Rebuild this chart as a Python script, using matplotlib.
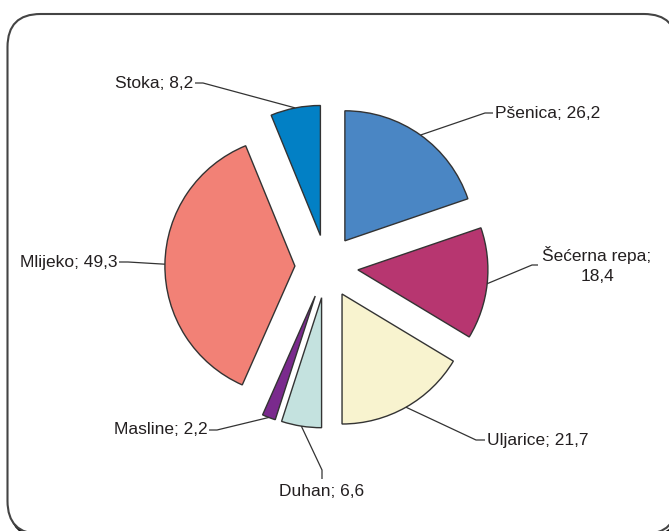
import numpy as np
import matplotlib
matplotlib.use("Agg")
import matplotlib.pyplot as plt
from matplotlib.patches import FancyBboxPatch

categories = ["Pšenica", "Šećerna repa", "Uljarice", "Duhan", "Masline", "Mlijeko", "Stoka"]
values = [26.2, 18.4, 21.7, 6.6, 2.2, 49.3, 8.2]
colors = ["#4A86C4", "#B73670", "#F8F3CF", "#C4E2DF", "#7A2A8D", "#F28176", "#0280C5"]

W, H = 669, 531
plt.rcParams['font.family'] = ['Liberation Sans', 'DejaVu Sans']
fig = plt.figure(figsize=(W / 100, H / 100), dpi=100)
ax = fig.add_axes([0, 0, 1, 1])

# frame with shadow (pixel coords, y up)
shadow = FancyBboxPatch((7.5 + 3, -3 - 3), 669.5, 520, boxstyle="round,pad=0,rounding_size=33",
                        fc="none", ec="#111111", lw=2.5, zorder=0)
ax.add_patch(shadow)
frame = FancyBboxPatch((7.5, -3), 669.5, 520, boxstyle="round,pad=0,rounding_size=33",
                       fc="white", ec="#444444", lw=1.5, zorder=1)
ax.add_patch(frame)

cx, cy, R = 326.5, H - 266.5, 130
explode_frac = 0.243
wedges, _ = ax.pie(values, colors=colors, startangle=90, counterclock=False,
                   explode=[explode_frac * R] * len(values), center=(cx, cy), radius=R,
                   wedgeprops=dict(edgecolor="#333333", linewidth=1.0), frame=True)
for w in wedges:
    w.set_zorder(3)
ax.set_xlim(0, W)
ax.set_ylim(0, H)
ax.set_aspect('auto')
ax.axis('off')

def fmt(name, v):
    return f"{name}; {v:.1f}".replace('.', ',')

# label layout: (text x, text y, ha, va, elbow points in image coords)
layout = {
    "Pšenica": dict(t=(495, 113), ha="left", va="center", pts=[(485, 113), (493, 113)], txt=None),
    "Šećerna repa": dict(t=(597, 265), ha="center", va="center", pts=[(532, 265), (538, 265)],
                         txt="Šećerna repa;\n18,4"),
    "Uljarice": dict(t=(487, 440), ha="left", va="center", pts=[(476, 440), (485, 440)], txt=None),
    "Duhan": dict(t=(322, 484), ha="center", va="top", pts=[(322, 470), (322, 479)], txt=None),
    "Masline": dict(t=(208, 430), ha="right", va="center", pts=[(217, 430), (209, 430)], txt=None),
    "Mlijeko": dict(t=(118, 262), ha="right", va="center", pts=[(128, 262), (119, 262)], txt=None),
    "Stoka": dict(t=(193, 83), ha="right", va="center", pts=[(203, 83), (195, 83)], txt=None),
}

for w, name, v in zip(wedges, categories, values):
    mid = np.deg2rad((w.theta1 + w.theta2) / 2)
    wx, wy = w.center
    ax_pt = (wx + w.r * np.cos(mid), wy + w.r * np.sin(mid))
    L = layout[name]
    xs = [ax_pt[0]] + [p[0] for p in L["pts"]]
    ys = [ax_pt[1]] + [H - p[1] for p in L["pts"]]
    ax.plot(xs, ys, color="#333333", lw=0.9, zorder=4, solid_capstyle="butt")
    txt = L["txt"] if L["txt"] else fmt(name, v)
    ax.text(L["t"][0], H - L["t"][1], txt, ha=L["ha"], va=L["va"], fontsize=12.5,
            color="#231F20", zorder=5, linespacing=1.45, multialignment="center")

fig.savefig("out.png", dpi=100)
